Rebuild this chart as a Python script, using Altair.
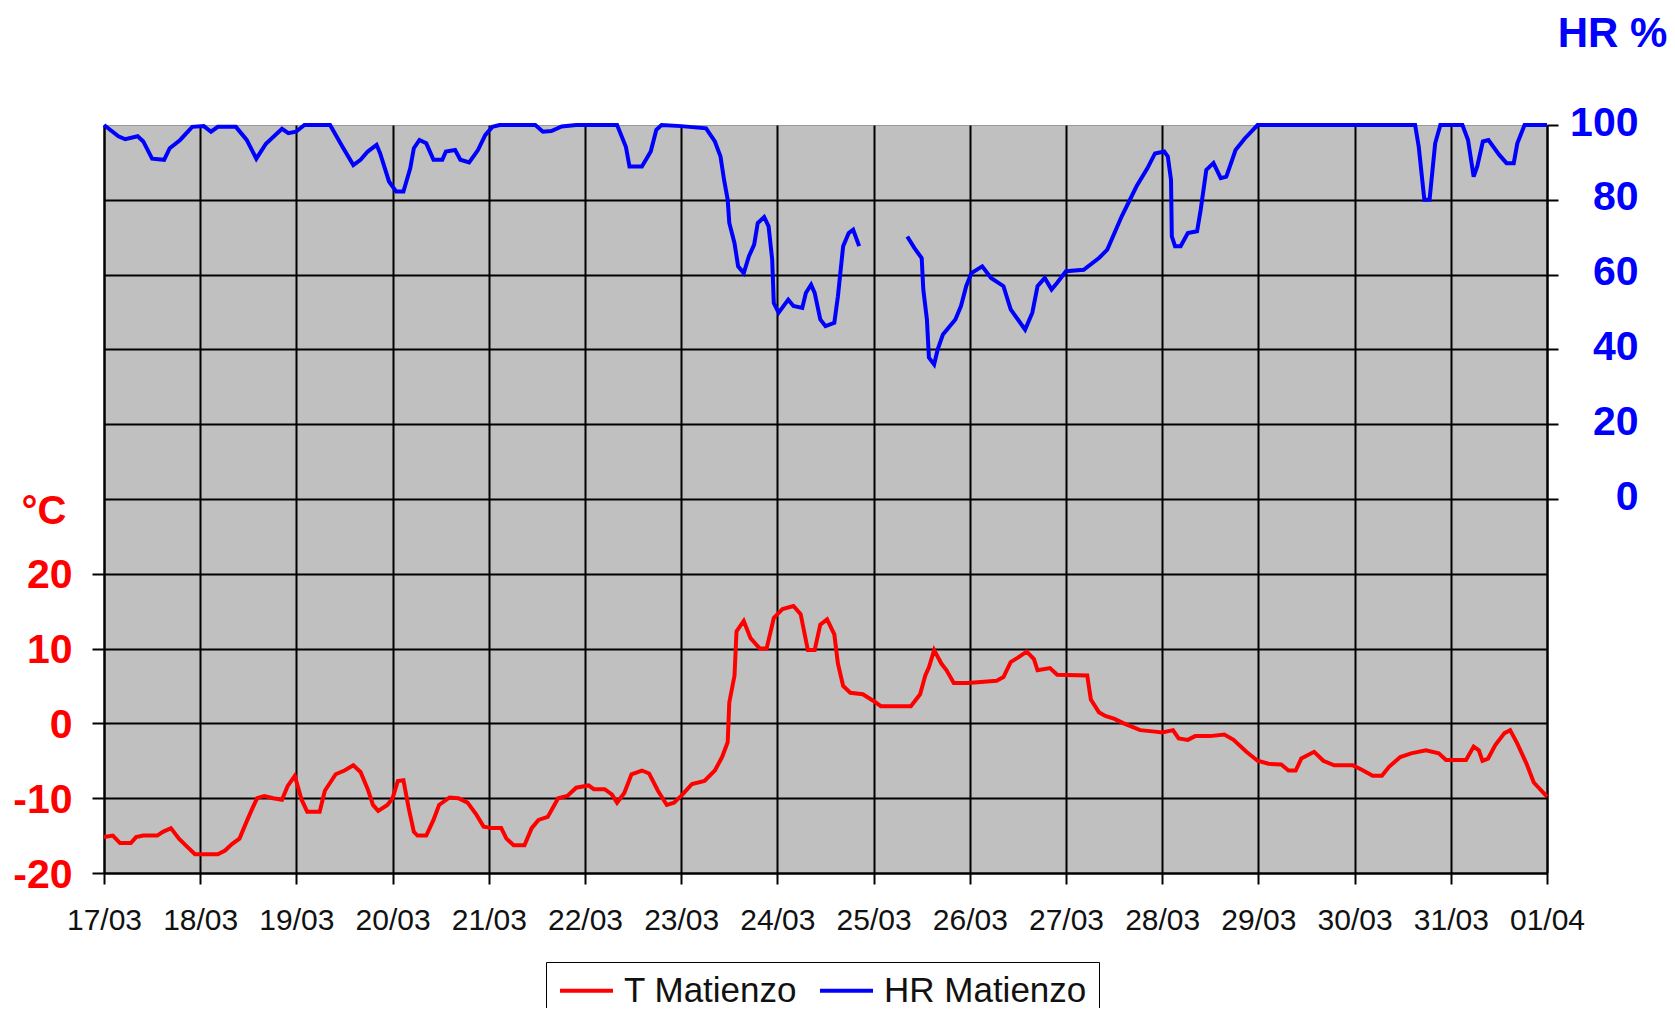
import altair as alt
import pandas as pd

# ---- data (hours since 17/03 00:00) ----
day_labels = ["17/03", "18/03", "19/03", "20/03", "21/03", "22/03", "23/03", "24/03",
              "25/03", "26/03", "27/03", "28/03", "29/03", "30/03", "31/03", "01/04"]

t_hours = [
    0, 2.2, 4, 6.7, 8, 9.8, 13.3, 14.7, 16.7, 18.7,
    20.4, 22.7, 28.4, 30.2, 32, 33.8, 35.6, 36.9, 38.2, 40,
    42.2, 44.4, 45.8, 47.6, 49.3, 50.7, 53.8, 55.1, 57.8, 60,
    62.2, 64, 65.8, 67.1, 68.4, 70.7, 72, 73.3, 74.7, 76,
    77.3, 78.2, 80.4, 82.2, 83.6, 86.2, 88.4, 90.7, 92.9, 94.7,
    96.9, 99.1, 100.4, 102.2, 104.9, 106.7, 108.4, 110.7, 113.3, 115.6,
    117.8, 120.9, 122.2, 124.9, 126.7, 128, 129.8, 131.6, 134.2, 136,
    138.2, 140.4, 142.2, 144, 146.7, 149.8, 152.4, 154.2, 155.6, 156,
    157.3, 157.8, 159.6, 161.3, 163.6, 165.3, 167.1, 169.3, 172, 173.8,
    175.6, 177.3, 178.7, 180.4, 182.2, 183.1, 184.4, 186.2, 189.3, 192,
    193.8, 201.3, 203.6, 204.9, 205.8, 207.1, 208.9, 210.2, 212, 215.6,
    222.7, 224.4, 226.2, 228, 230.2, 232, 232.9, 236, 237.8, 245.3,
    246.2, 248.2, 249.8, 252.1, 254.4, 256.7, 258.5, 262.2, 264, 266.7,
    268.1, 270.4, 272.2, 275.9, 279.5, 281.8, 285, 287.8, 290.5, 293.7,
    295.5, 297.3, 298.7, 301.9, 304.2, 306.9, 311.5, 313.8, 316.5, 318.8,
    320.6, 323.4, 326.1, 329.8, 333, 334.8, 339.8, 341.7, 343, 343.9,
    345.3, 347.1, 349.4, 350.8, 352.6, 354.9, 356.7, 360,
]
t_values = [
    -15.2, -15, -16, -16, -15.2, -15, -15, -14.5, -14, -15.4,
    -16.3, -17.5, -17.5, -17, -16.1, -15.4, -13.1, -11.5, -10, -9.7,
    -10, -10.2, -8.4, -7, -10.2, -11.8, -11.8, -9, -6.8, -6.3,
    -5.6, -6.5, -8.8, -10.9, -11.7, -10.9, -10, -7.7, -7.6, -11.3,
    -14.5, -15, -15, -12.9, -10.9, -9.9, -10, -10.6, -12.2, -13.8,
    -14, -14, -15.4, -16.3, -16.3, -14, -12.9, -12.5, -10, -9.7,
    -8.6, -8.3, -8.8, -8.8, -9.5, -10.6, -9.3, -6.8, -6.3, -6.7,
    -9, -10.9, -10.6, -9.7, -8.1, -7.7, -6.3, -4.5, -2.5, 2.8,
    6.4, 12.3, 13.7, 11.4, 10, 10, 14.1, 15.3, 15.7, 14.6,
    9.8, 9.8, 13.2, 13.9, 11.9, 8, 5, 4.1, 3.9, 3,
    2.3, 2.3, 3.9, 6.4, 7.5, 9.8, 8, 7.1, 5.4, 5.4,
    5.7, 6.2, 8.2, 8.8, 9.6, 8.6, 7.1, 7.4, 6.5, 6.4,
    3.2, 1.5, 1, 0.6, 0, -0.5, -0.9, -1.1, -1.2, -0.9,
    -2, -2.2, -1.7, -1.7, -1.5, -2.2, -3.8, -5, -5.4, -5.5,
    -6.3, -6.3, -4.7, -3.8, -5, -5.6, -5.6, -6.2, -7, -7,
    -5.8, -4.5, -4, -3.6, -4, -4.9, -4.9, -3.1, -3.6, -5,
    -4.7, -2.9, -1.3, -0.9, -2.7, -5.4, -7.9, -9.8,
]

hr_hours = [
    0, 3.6, 5.3, 8.4, 9.8, 12, 15, 16.4, 19, 22,
    24.9, 26.7, 28.4, 32.9, 35.6, 38, 40.4, 44.4, 46, 47.9,
    50, 56.4, 59.6, 62.2, 64, 65.8, 68, 68.9, 71.1, 72.9,
    74.7, 76.4, 77.3, 78.7, 80.4, 82.2, 84.4, 85.3, 87.6, 88.9,
    91.1, 93.3, 95.1, 96.9, 98.7, 107.6, 109.5, 111.6, 114.2, 117.8,
    128, 130.2, 131.1, 134.2, 136.4, 137.8, 139.1, 144, 150.2, 152.4,
    153.8, 154.7, 155.6, 156, 157.3, 158.2, 159.6, 160.9, 162.2, 163.1,
    164.7, 165.8, 166.7, 167.1, 168.3, 170.7, 172, 174.2, 175.1, 176.4,
    177.3, 178.7, 180, 182.2, 183.1, 184.4, 185.8, 186.9, 188.4,
    200.4, 202.2, 204, 204.4, 205.3, 205.8, 207.1, 208, 209.3, 212.4,
    213.8, 215.1, 216.4, 219.1, 221.3, 224.4, 226.2, 228, 229.8, 231.6,
    232.9, 234.7, 236.4, 237.8, 240, 244.4, 248.3, 250.3, 253.9, 257.6,
    260.3, 262.2, 264.5, 265.4, 266.2, 266.4, 267.2, 268.6, 270.4, 272.7,
    273.6, 275, 276.8, 278.6, 280, 282.3, 284.6, 287.8, 327.1, 328,
    329.4, 330.7, 332.1, 333.4, 338.9, 340.3, 341.7, 342.6, 344, 345.4,
    348.1, 349.9, 351.7, 352.6, 354.4, 360,
]
hr_values = [
    100, 97, 96.2, 97, 95.6, 91, 90.7, 93.8, 96, 99.5,
    99.7, 98.2, 99.5, 99.5, 96, 91, 95, 99, 97.8, 98.2,
    100, 100, 94, 89.3, 90.7, 92.9, 94.7, 92.4, 84.9, 82.2,
    82.2, 88.4, 93.8, 96, 95.1, 90.7, 90.7, 92.9, 93.3, 90.7,
    90, 93.3, 97.3, 99.5, 100, 100, 98.2, 98.4, 99.6, 100,
    100, 94.2, 88.9, 88.9, 92.9, 98.7, 100, 99.7, 99.1, 95.6,
    91.6, 85.3, 80, 73.8, 68.4, 62.2, 60.4, 64.9, 68, 73.8,
    75.4, 72.9, 64, 52.4, 49.8, 53.3, 51.6, 51.1, 55.1, 57.3,
    55.1, 48, 46.2, 47.1, 54.2, 67.6, 71.1, 72, 67.6,
    70.2, 67.1, 64.4, 56, 48, 37.8, 36, 40, 44, 48,
    51.6, 56.9, 60.4, 62.2, 59.1, 56.9, 50.7, 48, 45.3, 49.8,
    56.9, 59.1, 56, 57.8, 60.9, 61.3, 64.5, 66.7, 75.6, 83.6,
    88.4, 92.4, 92.9, 91.6, 85.3, 70.2, 67.6, 67.6, 71.1, 71.6,
    77.3, 88, 89.8, 85.8, 86.2, 93.3, 96.4, 100, 100, 94.2,
    80, 80, 95.1, 100, 100, 96, 86.2, 88.9, 95.6, 96,
    92, 89.8, 89.8, 95.1, 100, 100,
]
hr_gap_start, hr_gap_end = 188.4, 200.4  # no HR readings in between

series_names = ["T Matienzo", "HR Matienzo"]
series_colors = ["#ff0000", "#0000ff"]

t_df = pd.DataFrame({"hour": t_hours, "value": t_values, "series": series_names[0]})
hr_df = pd.DataFrame({"hour": hr_hours, "value": hr_values, "series": series_names[1]})
hr_df["seg"] = (hr_df["hour"] >= hr_gap_end).astype(int)

FONT = "Liberation Sans"
RED = series_colors[0]
BLUE = series_colors[1]
PLOT_BG = "#c0c0c0"

label_expr = "[" + ",".join("'%s'" % d for d in day_labels) + "][round(datum.value/24)]"

x_enc = alt.X(
    "hour:Q",
    title=None,
    scale=alt.Scale(domain=[0, 360], nice=False, zero=False),
    axis=alt.Axis(
        values=list(range(0, 361, 24)),
        labelExpr=label_expr,
        grid=True, gridColor="black", gridWidth=2,
        domainColor="black", domainWidth=2,
        tickColor="black", tickWidth=2, tickSize=11,
        labelFont=FONT, labelFontSize=30, labelColor="#111111",
        labelPadding=21, labelFlush=False, labelOverlap=False, labelBound=False,
    ),
)

color_enc = alt.Color(
    "series:N",
    scale=alt.Scale(domain=series_names, range=series_colors),
    legend=alt.Legend(
        orient="none", legendX=442, legendY=837, direction="horizontal",
        title=None, strokeColor="black", fillColor="white", padding=12,
        symbolType="stroke", symbolSize=2809, symbolStrokeWidth=4,
        clipHeight=33,
        labelFont=FONT, labelFontSize=35, labelColor="#111111", labelLimit=500,
        labelOffset=9, columnPadding=20,
    ),
)

t_line = alt.Chart(t_df).mark_line(strokeWidth=4, clip=False).encode(
    x=x_enc,
    y=alt.Y(
        "value:Q",
        scale=alt.Scale(domain=[-20, 80], nice=False, zero=False),
        axis=alt.Axis(
            orient="left",
            values=list(range(-20, 71, 10)),
            labelExpr="datum.value <= 20 ? '' + datum.value : ''",
            grid=True, gridColor="black", gridWidth=2,
            domainColor="black", domainWidth=2,
            tickColor={"condition": {"test": "datum.value <= 20", "value": "black"}, "value": "transparent"},
            tickWidth=2, tickSize=12,
            labelFont=FONT, labelFontSize=41, labelFontWeight="bold", labelColor=RED,
            labelPadding=20, labelBaseline="middle", labelOffset=2,
            title="°C", titleFont=FONT, titleFontSize=40, titleFontWeight="bold",
            titleColor=RED, titleAngle=0, titleAlign="right", titleBaseline="middle",
            titleX=-38, titleY=386,
        ),
    ),
    color=color_enc,
)

hr_line = alt.Chart(hr_df).mark_line(strokeWidth=4, clip=False).encode(
    x=x_enc,
    y=alt.Y(
        "value:Q",
        scale=alt.Scale(domain=[-100, 100], nice=False, zero=False),
        axis=alt.Axis(
            orient="right",
            values=[0, 20, 40, 60, 80, 100],
            grid=False,
            domainColor="black", domainWidth=2,
            tickColor="black", tickWidth=2, tickSize=11,
            labelFont=FONT, labelFontSize=41, labelFontWeight="bold", labelColor=BLUE,
            labelAlign="right", labelPadding=80, labelBaseline="middle", labelOffset=-2,
            title="HR %", titleFont=FONT, titleFontSize=42, titleFontWeight="bold",
            titleColor=BLUE, titleAngle=0, titleAlign="center", titleBaseline="middle",
            titleX=65, titleY=-92,
        ),
    ),
    color=color_enc,
    detail="seg:N",
)

chart = (
    alt.layer(t_line, hr_line)
    .resolve_scale(y="independent")
    .properties(
        width=1443, height=748,
        autosize=alt.AutoSizeParams(type="none"),
        padding={"left": 96, "top": 117, "right": 120, "bottom": 135},
        background="white",
        view=alt.ViewBackground(fill=PLOT_BG, stroke="#999999", strokeWidth=1),
    )
    .configure_view(fill=PLOT_BG, stroke="#999999", strokeWidth=1)
    .configure_legend(strokeWidth=2)
    .configure(font=FONT)
)

chart.save("out.html", embed_options={"renderer": "svg", "actions": False})
